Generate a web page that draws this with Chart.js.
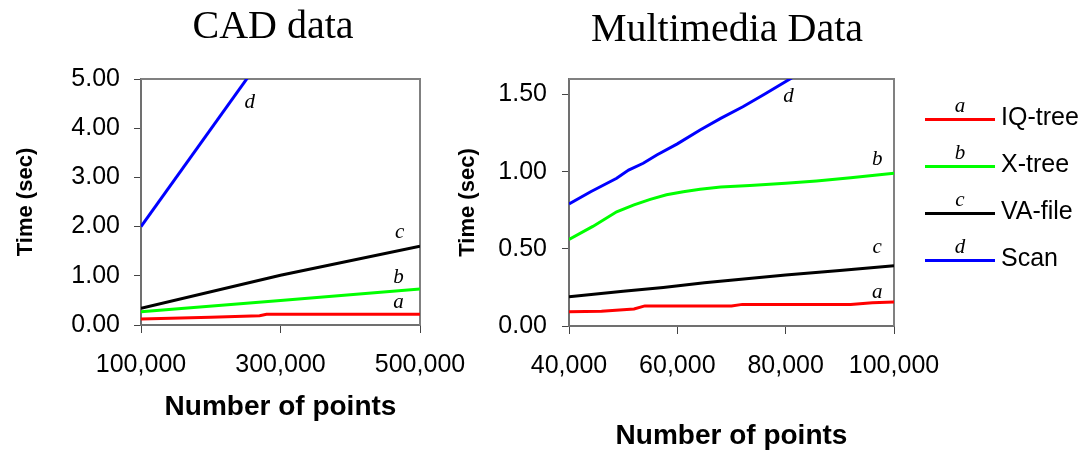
<!DOCTYPE html>
<html><head><meta charset="utf-8">
<script src="https://cdn.jsdelivr.net/npm/chart.js@4/dist/chart.umd.min.js"></script>
<style>
html,body{margin:0;padding:0;background:#fff;}
#wrap{position:relative;width:1088px;height:450px;overflow:hidden;background:#fff;}
canvas{position:absolute;left:0;top:0;}
.ttl{position:absolute;font-family:'Liberation Serif','Times New Roman',serif;font-size:40px;line-height:40px;white-space:nowrap;color:#000;transform:translateX(-50%);}
.lgline{position:absolute;height:3px;}
.lgtag{position:absolute;font-family:'Liberation Serif','Times New Roman',serif;font-style:italic;font-size:21px;line-height:21px;transform:translateX(-50%);color:#000;}
.lgtxt{position:absolute;font-family:'Liberation Sans',Arial,sans-serif;font-size:25px;line-height:28px;white-space:nowrap;color:#000;}
</style></head>
<body>
<div id="wrap">
  <canvas id="c1" width="1088" height="450"></canvas>
  <canvas id="c2" width="1088" height="450"></canvas>
  <div class="ttl" style="left:273px;top:5px;">CAD data</div>
  <div class="ttl" style="left:727px;top:8px;">Multimedia Data</div>
  <div id="legend"></div>
</div>
<script>
// ---- series meta ----
const seriesNames = ['IQ-tree', 'X-tree', 'VA-file', 'Scan'];
const seriesTags = ['a', 'b', 'c', 'd'];
const seriesColors = ['#ff0000', '#00ff00', '#000000', '#0000ff'];

// ---- CAD data ----
const cadIQx = [100000, 200000, 270000, 280000, 500000];
const cadIQy = [0.12, 0.16, 0.19, 0.22, 0.22];
const cadXTx = [100000, 300000, 500000];
const cadXTy = [0.27, 0.50, 0.73];
const cadVAx = [100000, 300000, 500000];
const cadVAy = [0.34, 1.01, 1.60];
const cadScanX = [100000, 300000];
const cadScanY = [2.00, 5.96];
const cadXTicks = [100000, 300000, 500000];
const cadYTicks = [0, 1, 2, 3, 4, 5];
const cadTagX = [469000, 469000, 471000, 256000];
const cadTagY = [0.34, 0.85, 1.76, 4.42];

// ---- Multimedia data ----
const mmIQx = [40000, 46000, 50000, 52000, 54000, 70000, 72000, 92000, 96000, 100000];
const mmIQy = [0.093, 0.095, 0.105, 0.11, 0.13, 0.13, 0.14, 0.14, 0.15, 0.155];
const mmXTx = [40000, 44400, 48800, 52000, 55000, 58000, 61100, 64200, 68000, 73400, 80000, 85700, 92000, 100000];
const mmXTy = [0.56, 0.645, 0.74, 0.785, 0.82, 0.85, 0.87, 0.886, 0.90, 0.91, 0.925, 0.94, 0.96, 0.99];
const mmVAx = [40000, 50000, 57400, 65000, 80000, 90000, 100000];
const mmVAy = [0.19, 0.225, 0.25, 0.28, 0.33, 0.36, 0.39];
const mmScanX = [40000, 44000, 48800, 51000, 53700, 56200, 60000, 64200, 68000, 72100, 76000, 80800, 85000];
const mmScanY = [0.79, 0.87, 0.957, 1.01, 1.054, 1.108, 1.18, 1.27, 1.345, 1.42, 1.50, 1.60, 1.69];
const mmXTicks = [40000, 60000, 80000, 100000];
const mmYTicks = [0, 0.5, 1.0, 1.5];
const mmTagX = [96900, 96900, 96900, 80500];
const mmTagY = [0.18, 1.04, 0.47, 1.45];

function pairs(xs, ys) { return xs.map((x, i) => ({x: x, y: ys[i]})); }

const framePlugin = {
  id: 'frame',
  beforeDatasetsDraw(chart) {
    const a = chart.chartArea, ctx = chart.ctx;
    ctx.save();
    ctx.strokeStyle = '#808080';
    ctx.lineWidth = 2;
    ctx.beginPath();
    ctx.moveTo(a.left, a.top); ctx.lineTo(a.right, a.top); ctx.lineTo(a.right, a.bottom);
    ctx.stroke();
    ctx.restore();
  }
};
const tagPlugin = {
  id: 'tags',
  afterDatasetsDraw(chart, args, opts) {
    const ctx = chart.ctx, xs = chart.scales.x, ys = chart.scales.y;
    ctx.save();
    ctx.font = 'italic 21px "Liberation Serif", "Times New Roman", serif';
    ctx.fillStyle = '#000';
    ctx.textAlign = 'center';
    ctx.textBaseline = 'alphabetic';
    opts.tags.forEach((t, i) => {
      ctx.fillText(t, xs.getPixelForValue(opts.tx[i]), ys.getPixelForValue(opts.ty[i]));
    });
    ctx.restore();
  }
};

function makeChart(id, cfg) {
  const datasets = cfg.series.map((s, i) => ({
    label: seriesNames[i],
    data: pairs(s[0], s[1]),
    borderColor: seriesColors[i],
    backgroundColor: seriesColors[i],
    borderWidth: 3,
    pointRadius: 0,
    tension: 0,
    fill: false
  }));
  const tickFont = {family: "'Liberation Sans', Arial, sans-serif", size: 25};
  return new Chart(document.getElementById(id), {
    type: 'line',
    data: {datasets: datasets},
    plugins: [framePlugin, tagPlugin],
    options: {
      responsive: false,
      animation: false,
      devicePixelRatio: 1,
      layout: {padding: cfg.padding},
      plugins: {
        legend: {display: false},
        tooltip: {enabled: false},
        tags: {tags: seriesTags, tx: cfg.tagX, ty: cfg.tagY}
      },
      scales: {
        x: {
          type: 'linear',
          min: cfg.xTicks[0], max: cfg.xTicks[cfg.xTicks.length - 1],
          afterBuildTicks: s => { s.ticks = cfg.xTicks.map(v => ({value: v})); },
          afterFit: s => { s.height = cfg.xh; },
          ticks: {
            autoSkip: false, maxRotation: 0, minRotation: 0,
            font: tickFont, color: '#000', padding: 17,
            callback: v => Number(v).toLocaleString('en-US')
          },
          grid: {drawOnChartArea: false, drawTicks: true, tickLength: 8, color: '#444', lineWidth: 1},
          border: {display: true, color: '#707070', width: 2},
          title: {display: true, text: 'Number of points', color: '#000', padding: 0,
                  font: {family: "'Liberation Sans', Arial, sans-serif", size: 28, weight: 'bold', lineHeight: 1}}
        },
        y: {
          type: 'linear',
          min: 0, max: cfg.ymax,
          afterBuildTicks: s => { s.ticks = cfg.yTicks.map(v => ({value: v})); },
          afterFit: s => { s.width = cfg.yw; },
          ticks: {
            font: tickFont, color: '#000', padding: cfg.ypad,
            callback: v => Number(v).toFixed(2)
          },
          grid: {drawOnChartArea: false, drawTicks: true, tickLength: 7, color: '#444', lineWidth: 1},
          border: {display: true, color: '#707070', width: 2},
          title: {display: true, text: 'Time (sec)', color: '#000', padding: 0,
                  font: {family: "'Liberation Sans', Arial, sans-serif", size: 22, weight: 'bold', lineHeight: 1.2}}
        }
      }
    }
  });
}

makeChart('c1', {
  series: [[cadIQx, cadIQy], [cadXTx, cadXTy], [cadVAx, cadVAy], [cadScanX, cadScanY]],
  xTicks: cadXTicks, yTicks: cadYTicks, ymax: 5,
  tagX: cadTagX, tagY: cadTagY,
  padding: {left: 13, right: 668, top: 79, bottom: 29},
  yw: 128, xh: 96, ypad: 14
});
makeChart('c2', {
  series: [[mmIQx, mmIQy], [mmXTx, mmXTy], [mmVAx, mmVAy], [mmScanX, mmScanY]],
  xTicks: mmXTicks, yTicks: mmYTicks, ymax: 1.6,
  tagX: mmTagX, tagY: mmTagY,
  padding: {left: 455, right: 194, top: 79, bottom: 0},
  yw: 114, xh: 124, ypad: 15
});

// ---- legend ----
const lg = document.getElementById('legend');
seriesNames.forEach((name, i) => {
  const y = 119 + i * 47;
  const line = document.createElement('div');
  line.className = 'lgline';
  line.style.cssText = 'left:925px;width:70px;top:' + (y - 1.5) + 'px;background:' + seriesColors[i] + ';';
  lg.appendChild(line);
  const tag = document.createElement('div');
  tag.className = 'lgtag';
  tag.style.cssText = 'left:960px;top:' + (y - 23.6) + 'px;';
  tag.textContent = seriesTags[i];
  lg.appendChild(tag);
  const txt = document.createElement('div');
  txt.className = 'lgtxt';
  txt.style.cssText = 'left:1001px;top:' + (y - 16.7) + 'px;';
  txt.textContent = name;
  lg.appendChild(txt);
});
</script>
</body></html>
